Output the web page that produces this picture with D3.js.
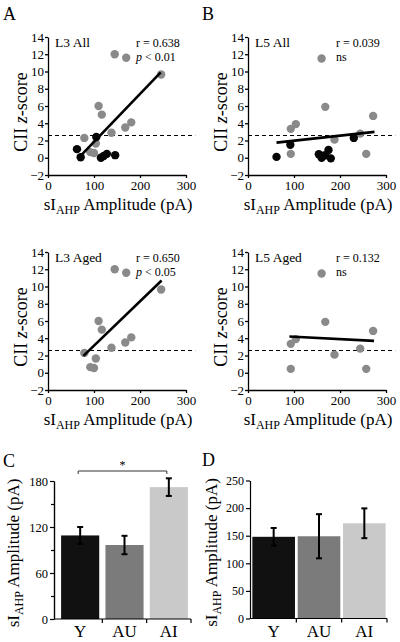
<!DOCTYPE html>
<html><head><meta charset="utf-8">
<script src="https://cdn.jsdelivr.net/npm/d3@7"></script>
<style>
body{margin:0;background:#fff;}
svg text{font-family:"Liberation Serif","Times New Roman",serif;fill:#000;}
</style></head><body>
<svg id="chart" width="400" height="642"></svg>
<script>
// ---------- data ----------
const l3AgedAmp  = [145,170,246,110,117,181,168,138,79,104,92,100];
const l3AgedZ    = [12.0,11.6,9.65,6.0,5.0,4.1,3.5,2.9,2.3,1.65,0.65,0.55];
const l3YoungAmp = [63,71,105,115,121,128,146];
const l3YoungZ   = [1.0,0.05,2.4,0.0,0.2,0.45,0.3];
const l5AgedAmp  = [160,168,272,104,93,244,188,93,257];
const l5AgedZ    = [11.5,5.9,4.85,3.9,3.35,2.8,2.1,0.45,0.45];
const l5YoungAmp = [62,92,154,163,168,160,175,180,230];
const l5YoungZ   = [0.1,1.5,0.4,0.2,0.3,0.0,0.9,-0.07,2.3];
const fitL3AllAmp = [65,245],  fitL3AllZ = [-0.1,9.9];
const fitL5AllAmp = [62,275],  fitL5AllZ = [1.75,3.0];
const fitL3AgedAmp = [77,247], fitL3AgedZ = [1.95,10.7];
const fitL5AgedAmp = [90,274], fitL5AgedZ = [4.2,3.7];
const zThreshold = 2.58;
const ampTicks = [0,100,200,300];
const zTicks = [-2,0,2,4,6,8,10,12,14];
const groups = ["Y","AU","AI"];
const l3Mean = [109,96.5,172], l3Sem = [11,12,11.5];
const l5Mean = [148,149,172.5], l5Sem = [16,40,27];
const l3Ticks = [0,60,120,180], l3Minor = [30,90,150];
const l5Ticks = [0,50,100,150,200,250];
const barColors = ["#111111","#7b7b7b","#c9c9c9"];

const svg = d3.select("#chart");

function ampLabel(g, cx, y, rotate){
  const t = g.append("text").attr("text-anchor","middle").attr("font-size",17);
  if(rotate) t.attr("transform",`translate(${cx},${y}) rotate(-90)`);
  else t.attr("x",cx).attr("y",y);
  t.append("tspan").text("sI");
  t.append("tspan").attr("font-size",12).attr("dy",4).text("AHP");
  t.append("tspan").attr("dy",-4).text(" Amplitude (pA)");
}

function scatter(o){
  const g = svg.append("g");
  const x = d3.scaleLinear().domain([0,300]).range([o.x0,o.x0+138]);
  const y = d3.scaleLinear().domain([-2,14]).range([o.yb,o.yb-138]);
  const xa = g.append("g").attr("transform",`translate(0,${o.yb})`)
    .call(d3.axisBottom(x).tickValues(ampTicks).tickSize(3).tickPadding(2).tickSizeOuter(0));
  const ya = g.append("g").attr("transform",`translate(${o.x0},0)`)
    .call(d3.axisLeft(y).tickValues(zTicks).tickSize(3).tickPadding(1).tickSizeOuter(0));
  [xa,ya].forEach(a=>{a.selectAll("path,line").attr("stroke","#000").attr("stroke-width",1.3);
    a.selectAll("text").attr("font-size",13).attr("font-family","Liberation Serif").attr("fill","#000");});
  xa.selectAll("text").attr("dy","0.75em");
  // threshold
  g.append("line").attr("x1",x(0)).attr("x2",x(320)).attr("y1",y(zThreshold)).attr("y2",y(zThreshold))
    .attr("stroke","#000").attr("stroke-width",1.2).attr("stroke-dasharray","4,3");
  const gray = o.grayX.map((v,i)=>[v,o.grayY[i]]);
  const blk = (o.blackX||[]).map((v,i)=>[v,o.blackY[i]]);
  g.selectAll(".gp").data(gray).enter().append("circle").attr("cx",d=>x(d[0])).attr("cy",d=>y(d[1]))
    .attr("r",4.2).attr("fill","#8a8a8a");
  g.selectAll(".bp").data(blk).enter().append("circle").attr("cx",d=>x(d[0])).attr("cy",d=>y(d[1]))
    .attr("r",4.2).attr("fill","#050505");
  g.append("line").attr("x1",x(o.fitX[0])).attr("x2",x(o.fitX[1])).attr("y1",y(o.fitY[0])).attr("y2",y(o.fitY[1]))
    .attr("stroke","#000").attr("stroke-width",2.6);
  g.append("text").attr("x",o.x0+7).attr("y",o.yb-128).attr("font-size",13.5).text(o.title);
  g.append("text").attr("x",o.x0+88).attr("y",o.yb-128).attr("font-size",12).text(o.r);
  const p = g.append("text").attr("x",o.x0+88).attr("y",o.yb-114).attr("font-size",12);
  if(o.p){p.append("tspan").attr("font-style","italic").text("p");p.append("tspan").text(" < "+o.p);}
  else p.text("ns");
  // labels
  ampLabel(g, (x.range()[0]+x.range()[1])/2+1, o.yb+35, false);
  const yl = g.append("text").attr("text-anchor","middle").attr("font-size",18)
    .attr("transform",`translate(${o.x0-21},${o.yb-63}) rotate(-90)`);
  yl.append("tspan").text("CII ");
  yl.append("tspan").attr("font-style","italic").text("z");
  yl.append("tspan").text("-score");
}

scatter({x0:48,yb:175,grayX:l3AgedAmp,grayY:l3AgedZ,blackX:l3YoungAmp,blackY:l3YoungZ,
  fitX:fitL3AllAmp,fitY:fitL3AllZ,title:"L3 All",r:"r = 0.638",p:"0.01"});
scatter({x0:248,yb:175,grayX:l5AgedAmp,grayY:l5AgedZ,blackX:l5YoungAmp,blackY:l5YoungZ,
  fitX:fitL5AllAmp,fitY:fitL5AllZ,title:"L5 All",r:"r = 0.039",p:null});
scatter({x0:48,yb:390,grayX:l3AgedAmp,grayY:l3AgedZ,
  fitX:fitL3AgedAmp,fitY:fitL3AgedZ,title:"L3 Aged",r:"r = 0.650",p:"0.05"});
scatter({x0:248,yb:390,grayX:l5AgedAmp,grayY:l5AgedZ,
  fitX:fitL5AgedAmp,fitY:fitL5AgedZ,title:"L5 Aged",r:"r = 0.132",p:null});

function bars(o){
  const g = svg.append("g");
  const x = d3.scaleBand().domain(groups).range(o.xr).paddingInner(o.pi).paddingOuter(o.pi/2);
  const y = d3.scaleLinear().domain([0,o.max]).range([o.yb,o.yb-138]);
  const data = groups.map((k,i)=>({k,m:o.mean[i],e:o.sem[i],c:barColors[i]}));
  g.selectAll("rect").data(data).enter().append("rect")
    .attr("x",d=>x(d.k)).attr("width",x.bandwidth()).attr("y",d=>y(d.m)).attr("height",d=>y(0)-y(d.m))
    .attr("fill",d=>d.c);
  const eb = g.selectAll(".eb").data(data).enter().append("g");
  const cx = d=>x(d.k)+x.bandwidth()/2;
  eb.append("line").attr("x1",cx).attr("x2",cx).attr("y1",d=>y(d.m+d.e)).attr("y2",d=>y(d.m-d.e));
  eb.append("line").attr("x1",d=>cx(d)-3).attr("x2",d=>cx(d)+3).attr("y1",d=>y(d.m+d.e)).attr("y2",d=>y(d.m+d.e));
  eb.append("line").attr("x1",d=>cx(d)-3).attr("x2",d=>cx(d)+3).attr("y1",d=>y(d.m-d.e)).attr("y2",d=>y(d.m-d.e));
  eb.selectAll("line").attr("stroke","#000").attr("stroke-width",2);
  const ya = g.append("g").attr("transform",`translate(${o.ax},0)`)
    .call(d3.axisLeft(y).tickValues(o.ticks).tickSize(4).tickPadding(2).tickSizeOuter(0));
  if(o.minor){
    g.append("g").attr("transform",`translate(${o.ax},0)`)
      .call(d3.axisLeft(y).tickValues(o.minor).tickSize(3).tickFormat("").tickSizeOuter(0))
      .selectAll("path,line").attr("stroke","#000").attr("stroke-width",1.2);
  }
  ya.selectAll("path,line").attr("stroke","#000").attr("stroke-width",1.2);
  ya.selectAll("text").attr("font-size",o.tfs).attr("font-family","Liberation Serif").attr("fill","#000");
  // x axis
  const step = x.step(), gap = step - x.bandwidth();
  const bounds = groups.map(k=>x(k)-gap/2).slice(1).concat([x(groups[groups.length-1])+x.bandwidth()+gap/2]);
  g.append("line").attr("x1",o.ax).attr("x2",bounds[bounds.length-1]).attr("y1",y(0)).attr("y2",y(0))
    .attr("stroke","#000").attr("stroke-width",1.2);
  g.selectAll(".xt").data(bounds).enter().append("line").attr("x1",d=>d).attr("x2",d=>d)
    .attr("y1",y(0)).attr("y2",y(0)+4).attr("stroke","#000").attr("stroke-width",1.2);
  g.selectAll(".xl").data(groups).enter().append("text").attr("x",d=>x(d)+x.bandwidth()/2).attr("y",o.yb+18)
    .attr("text-anchor","middle").attr("font-size",17).text(d=>d);
  ampLabel(g, o.lx, o.yb-66, true);
  return {x,y};
}

const c = bars({xr:[58,191],pi:0.14,max:180,yb:619,ax:54,ticks:l3Ticks,minor:l3Minor,mean:l3Mean,sem:l3Sem,tfs:12.5,lx:19});
bars({xr:[251,387],pi:0.06,max:250,yb:618.5,ax:250,ticks:l5Ticks,minor:null,mean:l5Mean,sem:l5Sem,tfs:12,lx:217});

// significance bracket in C
const bx1 = c.x("Y")+c.x.bandwidth()/2-2, bx2 = c.x("AI")+c.x.bandwidth()/2-2;
svg.append("path").attr("d",`M${bx1},${474}V${471}H${bx2}V${474}`).attr("fill","none")
  .attr("stroke","#333").attr("stroke-width",1);
svg.append("text").attr("x",(bx1+bx2)/2).attr("y",469).attr("text-anchor","middle").attr("font-size",12).text("*");

// panel letters
[["A",3,20],["B",202,20],["C",3,467],["D",202,466]].forEach(([t,x,y])=>
  svg.append("text").attr("x",x).attr("y",y).attr("font-size",18).text(t));
</script></body></html>
